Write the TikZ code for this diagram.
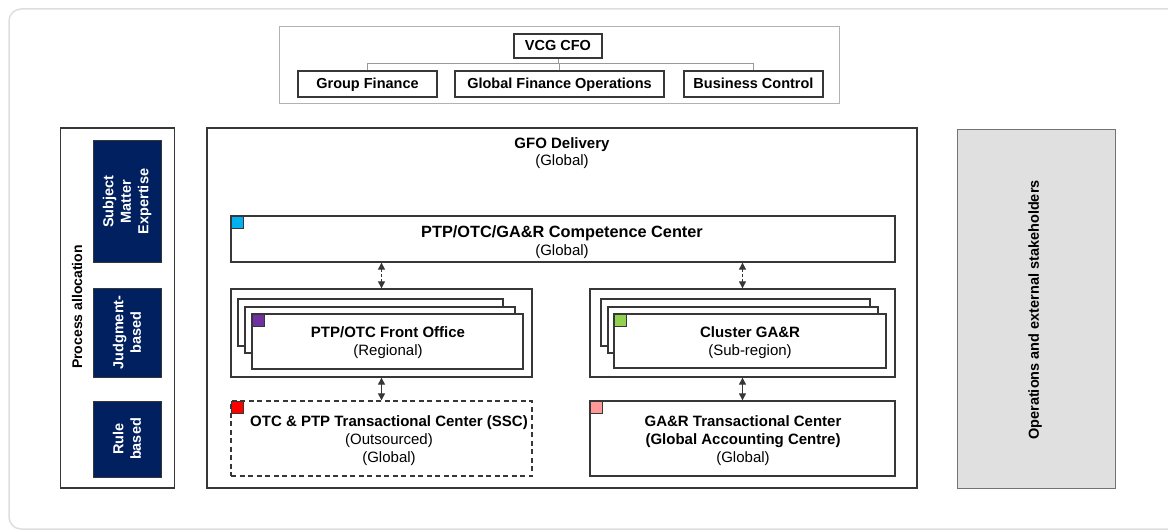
\documentclass[tikz,border=0pt]{standalone}
\usepackage{fontspec}
\setmainfont{Liberation Sans}
\usetikzlibrary{arrows.meta}
\definecolor{navyblue}{RGB}{0,32,96}
\definecolor{linegray}{RGB}{55,55,55}
\definecolor{sqblue}{RGB}{0,176,240}
\definecolor{sqpurple}{RGB}{112,48,160}
\definecolor{sqred}{RGB}{255,0,0}
\definecolor{sqgreen}{RGB}{146,208,80}
\definecolor{sqpink}{RGB}{255,153,153}
\definecolor{panelgray}{RGB}{224,224,224}
\begin{document}
\begin{tikzpicture}[x=1pt,y=-1pt,
  frame/.style={draw=linegray, line width=1.3pt, inner sep=0pt, fill=white},
  topbox/.style={draw=linegray, line width=1.3pt, inner sep=0pt, text height=10.5pt, text depth=0.5pt, font=\bfseries\fontsize{14.5}{17}\selectfont},
  darkbox/.style={draw=linegray, line width=1pt, fill=navyblue, inner sep=0pt},
  darktext/.style={rotate=90, align=center, text=white, inner sep=0pt, font=\bfseries\fontsize{14.5}{17.5}\selectfont},
  sq/.style={draw=linegray, line width=1pt, minimum size=12pt, inner sep=0pt, anchor=north west},
  lbl/.style={align=center, inner sep=0pt, font=\fontsize{15}{18}\selectfont},
  arr/.style={draw=linegray, line width=1pt, {Triangle[length=7pt,width=7pt]}-{Triangle[length=7pt,width=7pt]}},
  conn/.style={draw=black!40, line width=1pt}]
\useasboundingbox (0,0) rectangle (1168,532);
\begin{scope}
  \clip (0,0) rectangle (1168,532);
  \draw[draw=black!13, line width=1.5pt, rounded corners=12pt] (9,9) rectangle (1190,529);
\end{scope}

% top organisation chart
\node[draw=black!30, line width=1pt, minimum width=560pt, minimum height=77pt, inner sep=0pt] (topframe) at (559,65.5) {};
\node[topbox, minimum width=88pt, minimum height=24pt] (cfo) at (558,46) {VCG CFO};
\node[topbox, minimum width=139pt, minimum height=26pt] (gf) at (367.5,84) {Group Finance};
\node[topbox, minimum width=209pt, minimum height=26pt] (gfo) at (559.5,84) {Global Finance Operations};
\node[topbox, minimum width=139pt, minimum height=26pt] (bc) at (753.5,84) {Business Control};
\coordinate (bus) at (558,64);
\draw[conn] (cfo.south) -- (bus);
\draw[conn] (gf.north) -- (gf.north |- bus) -- (bc.north |- bus) -- (bc.north);
\draw[conn] (gfo.north) -- (gfo.north |- bus);

% left panel
\node[frame, minimum width=114pt, minimum height=360pt] (pa) at (117.5,308) {};
\node[rotate=90, inner sep=0pt, font=\bfseries\fontsize{14}{16}\selectfont] (patext) at (77,307) {Process allocation};
\node[darkbox, minimum width=68pt, minimum height=121pt] (sme) at (127,201.5) {};
\node[darktext] (smet) at (sme.center) {Subject\\Matter\\Expertise};
\node[darkbox, minimum width=68pt, minimum height=89pt] (jb) at (127,332.5) {};
\node[darktext] (jbt) at (jb.center) {Judgment-\\based};
\node[darkbox, minimum width=68pt, minimum height=76pt] (rb) at (127,439) {};
\node[darktext] (rbt) at (rb.center) {Rule\\based};

% right panel
\node[draw=black!55, line width=1pt, fill=panelgray, minimum width=158pt, minimum height=358pt, inner sep=0pt] (ops) at (1036,309) {};
\node[rotate=90, inner sep=0pt, font=\bfseries\fontsize{14.5}{17}\selectfont] (opst) at (1035,310) {Operations and external stakeholders};

% GFO delivery
\node[frame, minimum width=710pt, minimum height=360pt] (del) at (562,308) {};
\node[lbl, font=\fontsize{15}{17}\selectfont] (delt) at (562,153) {\textbf{GFO Delivery}\\(Global)};

% competence center
\node[frame, minimum width=664pt, minimum height=46pt] (cc) at (563,239) {};
\node[lbl] (cct) at (562,242.5) {{\bfseries\fontsize{16.3}{18}\selectfont PTP/OTC/GA\&R Competence Center}\\(Global)};
\node[sq, fill=sqblue] (sq1) at ([shift={(1,1)}]cc.north west) {};

% left front office
\node[frame, minimum width=301pt, minimum height=88pt] (lcont) at (381.5,333) {};
\node[frame, minimum width=265pt, minimum height=47pt] (lc1) at (370.5,322.5) {};
\node[frame, minimum width=270pt, minimum height=46pt] (lc2) at (380,330) {};
\node[frame, minimum width=271pt, minimum height=55pt] (lc3) at (387.5,341.5) {};
\node[sq, fill=sqpurple] (sq2) at ([shift={(1,1)}]lc3.north west) {};
\node[lbl] (lc3t) at (388,343) {\textbf{PTP/OTC Front Office}\\(Regional)};

% right cluster
\node[frame, minimum width=305pt, minimum height=88pt] (rcont) at (742.5,333) {};
\node[frame, minimum width=269pt, minimum height=47pt] (rc1) at (735.5,322.5) {};
\node[frame, minimum width=270pt, minimum height=46pt] (rc2) at (743,330) {};
\node[frame, minimum width=272pt, minimum height=54pt] (rc3) at (750,341) {};
\node[sq, fill=sqgreen] (sq3) at ([shift={(1,1)}]rc3.north west) {};
\node[lbl] (rc3t) at (750,343) {\textbf{Cluster GA\&R}\\(Sub-region)};

% bottom left (dashed)
\node[frame, dashed, dash pattern=on 5pt off 3.5pt, minimum width=301pt, minimum height=75pt] (ssc) at (381.5,438.5) {};
\node[sq, fill=sqred] (sq4) at ([shift={(1,1)}]ssc.north west) {};
\node[lbl] (ssct) at (389,441) {\textbf{OTC \& PTP Transactional Center (SSC)}\\(Outsourced)\\(Global)};

% bottom right
\node[frame, minimum width=305pt, minimum height=75pt] (gac) at (742.5,438.5) {};
\node[sq, fill=sqpink] (sq5) at ([shift={(1,1)}]gac.north west) {};
\node[lbl] (gact) at (743,441) {\textbf{GA\&R Transactional Center}\\\textbf{(Global Accounting Centre)}\\(Global)};

% arrows
\draw[arr, dashed, dash pattern=on 3pt off 2pt] (cc.south -| lcont.north) -- (lcont.north);
\draw[arr, dashed, dash pattern=on 3pt off 2pt] (cc.south -| rcont.north) -- (rcont.north);
\draw[arr] (lcont.south) -- (ssc.north);
\draw[arr] (rcont.south) -- (gac.north);
\end{tikzpicture}
\end{document}
